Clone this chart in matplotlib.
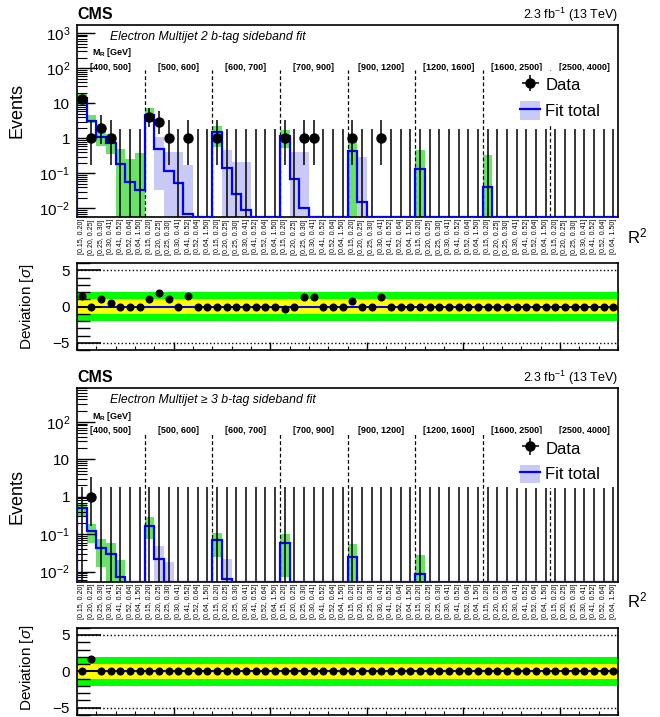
import numpy as np
import matplotlib
matplotlib.use("Agg")
import matplotlib.pyplot as plt
from matplotlib.patches import Patch
from matplotlib.lines import Line2D
from matplotlib.legend_handler import HandlerTuple
from matplotlib.ticker import LogLocator, FuncFormatter, MultipleLocator, NullFormatter

plt.rcParams['font.family'] = ['Liberation Sans', 'DejaVu Sans']
plt.rcParams['mathtext.fontset'] = 'custom'
plt.rcParams['mathtext.rm'] = 'Liberation Sans'
plt.rcParams['mathtext.it'] = 'Liberation Sans:italic'
plt.rcParams['mathtext.bf'] = 'Liberation Sans:bold'

mr_bins = ['[400, 500]', '[500, 600]', '[600, 700]', '[700, 900]',
           '[900, 1200]', '[1200, 1600]', '[1600, 2500]', '[2500, 4000]']
r2_bins = ['[0.15, 0.20]', '[0.20, 0.25]', '[0.25, 0.30]', '[0.30, 0.41]',
           '[0.41, 0.52]', '[0.52, 0.64]', '[0.64, 1.50]']

# ---- 2 b-tag (oben) ----
data_2b = [13, 1, 2, 1, 0, 0, 0,
           4, 3, 1, 0, 1, 0, 0,
           1, 0, 0, 0, 0, 0, 0,
           1, 0, 1, 1, 0, 0, 0,
           1, 0, 0, 1, 0, 0, 0,
           0, 0, 0, 0, 0, 0, 0,
           0, 0, 0, 0, 0, 0, 0,
           0, 0, 0, 0, 0, 0, 0]
fit_2b = [14, 3.2, 1.1, 0.75, 0.18, 0.058, 0.033,
          4.7, 0.5, 0.12, 0.054, 0.007, 0, 0,
          1.5, 0.145, 0.026, 0.0093, 0, 0, 0,
          1.16, 0.069, 0.01, 0, 0, 0, 0,
          0.44, 0.015, 0, 0, 0, 0, 0,
          0.13, 0, 0, 0, 0, 0, 0,
          0.041, 0, 0, 0, 0, 0, 0,
          0, 0, 0, 0, 0, 0, 0]
band_lo_2b = [9, 2.7, 0.6, 0.35, 0, 0, 0,
              3, 0.033, 0, 0, 0, 0, 0,
              0.57, 0, 0, 0, 0, 0, 0,
              0.52, 0, 0, 0, 0, 0, 0,
              0, 0, 0, 0, 0, 0, 0,
              0, 0, 0, 0, 0, 0, 0,
              0, 0, 0, 0, 0, 0, 0,
              0, 0, 0, 0, 0, 0, 0]
band_hi_2b = [19, 4.6, 2.3, 1.3, 0.48, 0.25, 0.37,
              7.5, 1.1, 0.42, 0.41, 0.17, 0, 0,
              2.2, 0.47, 0.21, 0.21, 0, 0, 0,
              1.7, 0.42, 0.42, 0, 0, 0, 0,
              1.0, 0.3, 0, 0, 0, 0, 0,
              0.47, 0, 0, 0, 0, 0, 0,
              0.33, 0, 0, 0, 0, 0, 0,
              0, 0, 0, 0, 0, 0, 0]
band_kind_2b = ['g', 'g', 'g', 'g', 'g', 'g', 'g',
                'g', 'b', 'b', 'b', 'b', '', '',
                'g', 'b', 'b', 'b', '', '', '',
                'g', 'b', 'b', '', '', '', '',
                'g', 'b', '', '', '', '', '',
                'g', '', '', '', '', '', '',
                'g', '', '', '', '', '', '',
                '', '', '', '', '', '', '']
dev_2b = [1.4, 0, 1.1, 0.5, 0, 0, 0,
          1.05, 1.85, 1.0, 0, 1.4, 0, 0,
          0, 0, 0, 0, 0, 0, 0,
          -0.4, 0, 1.3, 1.25, 0, 0, 0,
          0.7, 0, 0, 1.35, 0, 0, 0,
          0, 0, 0, 0, 0, 0, 0,
          0, 0, 0, 0, 0, 0, 0,
          0, 0, 0, 0, 0, 0, 0]

# ---- >= 3 b-tag (unten) ----
data_3b = [0, 1, 0, 0, 0, 0, 0] + [0] * 49
fit_3b = [0.5, 0.125, 0.043, 0.03, 0.007, 0, 0,
          0.17, 0.022, 0, 0, 0, 0, 0,
          0.07, 0.0063, 0, 0, 0, 0, 0,
          0.057, 0, 0, 0, 0, 0, 0,
          0.024, 0, 0, 0, 0, 0, 0,
          0.0087, 0, 0, 0, 0, 0, 0,
          0, 0, 0, 0, 0, 0, 0,
          0, 0, 0, 0, 0, 0, 0]
band_lo_3b = [0.31, 0.057, 0.013, 0, 0, 0, 0,
              0.074, 0, 0, 0, 0, 0, 0,
              0.024, 0, 0, 0, 0, 0, 0,
              0.007, 0, 0, 0, 0, 0, 0,
              0, 0, 0, 0, 0, 0, 0,
              0, 0, 0, 0, 0, 0, 0,
              0, 0, 0, 0, 0, 0, 0,
              0, 0, 0, 0, 0, 0, 0]
band_hi_3b = [0.7, 0.19, 0.074, 0.057, 0.02, 0, 0,
              0.28, 0.049, 0.018, 0, 0, 0, 0,
              0.11, 0.022, 0, 0, 0, 0, 0,
              0.1, 0, 0, 0, 0, 0, 0,
              0.055, 0, 0, 0, 0, 0, 0,
              0.028, 0, 0, 0, 0, 0, 0,
              0, 0, 0, 0, 0, 0, 0,
              0, 0, 0, 0, 0, 0, 0]
band_kind_3b = ['g', 'g', 'g', 'g', 'g', '', '',
                'g', 'b', 'b', '', '', '', '',
                'g', 'b', '', '', '', '', '',
                'g', '', '', '', '', '', '',
                'g', '', '', '', '', '', '',
                'g', '', '', '', '', '', '',
                '', '', '', '', '', '', '',
                '', '', '', '', '', '', '']
dev_3b = [0, 1.7, 0, 0, 0, 0, 0] + [0] * 49

# Poisson-Intervalle (Garwood) fuer die beobachteten Zahlen
poisson_lo = {0: 0.0, 1: 0.17, 2: 0.71, 3: 1.37, 4: 2.09, 13: 9.45}
poisson_hi = {0: 1.84, 1: 3.30, 2: 4.64, 3: 5.92, 4: 7.16, 13: 17.69}

BLUE = '#0000ff'
LIGHTBLUE = '#c9c9f7'
GREEN = '#6ae26a'

W, H = 660, 717


def fbox(left, top, right, bottom):
    return [left / W, 1 - bottom / H, (right - left) / W, (bottom - top) / H]


def log_label(v, pos):
    k = int(round(np.log10(v)))
    if k == 0:
        return '1'
    if k == 1:
        return '10'
    return r'$10^{%d}$' % k


def draw(ax, axr, data, fit, blo, bhi, bkind, dev, ylo, yhi, title):
    n = len(data)
    edges = np.arange(n + 1)
    x = np.arange(n) + 0.5

    ax.set_yscale('log')
    ax.set_xlim(0, n)
    ax.set_ylim(ylo, yhi)

    # Unsicherheitsbaender
    for i in range(n):
        if bkind[i]:
            lo = blo[i] if blo[i] > 0 else ylo
            col = GREEN if bkind[i] == 'g' else LIGHTBLUE
            ax.bar(x[i], bhi[i] - lo, bottom=lo, width=1, color=col, lw=0, zorder=1)

    # Fit
    ax.stairs(np.maximum(fit, ylo), edges, baseline=ylo, color=BLUE, lw=1.6, zorder=3)

    # Daten
    d = np.array(data, dtype=float)
    lo = np.array([poisson_lo[k] for k in data])
    hi = np.array([poisson_hi[k] for k in data])
    nz = d > 0
    ax.vlines(x[~nz], ylo, hi[~nz], color='k', lw=1.1, zorder=4)
    ax.errorbar(x[nz], d[nz], yerr=[d[nz] - lo[nz], hi[nz] - d[nz]], fmt='o',
                color='k', ms=6.5, lw=1.1, capsize=0, zorder=5)

    # Gruppengrenzen und Beschriftung
    for g in range(len(mr_bins)):
        if g > 0:
            ax.axvline(7 * g, ymax=0.765, color='k', ls=(0, (3, 2)), lw=0.9, zorder=2)
        ax.text(7 * g + 3.5, 0.768, mr_bins[g], transform=ax.get_xaxis_transform(),
                ha='center', va='baseline', fontsize=6.5, fontweight='bold')
    ax.text(0.028, 0.842, r'$\mathbf{M_R}$ [GeV]', transform=ax.transAxes,
            fontsize=6.5, fontweight='bold', va='baseline')
    ax.text(0.061, 0.92, title, transform=ax.transAxes, fontsize=8.8,
            style='italic', va='baseline')
    ax.text(0.0, 1.03, 'CMS', transform=ax.transAxes, fontsize=11.5,
            fontweight='bold', va='baseline')
    ax.text(1.0, 1.03, r'2.3 fb$^{-1}$ (13 TeV)', transform=ax.transAxes,
            fontsize=9, ha='right', va='baseline')
    ax.text(1.017, -0.135, r'R$^2$', transform=ax.transAxes, fontsize=12, va='baseline')

    # Achsen
    ax.yaxis.set_major_locator(LogLocator(base=10, numticks=20))
    ax.yaxis.set_minor_locator(LogLocator(base=10, subs=np.arange(2, 10), numticks=20))
    ax.yaxis.set_major_formatter(FuncFormatter(log_label))
    ax.yaxis.set_minor_formatter(NullFormatter())
    ax.tick_params(axis='y', which='major', direction='in', length=13, width=1,
                   labelsize=11, pad=5)
    ax.tick_params(axis='y', which='minor', direction='in', length=7, width=0.8)
    ax.set_xticks(x)
    ax.set_xticklabels(r2_bins * len(mr_bins), rotation=90, fontsize=5)
    ax.tick_params(axis='x', length=0, pad=1.5)
    for s in ax.spines.values():
        s.set_linewidth(1.2)

    h_data = ax.errorbar([np.nan], [np.nan], xerr=[[1]], yerr=[[1]], fmt='o',
                         color='k', ms=6.5, lw=1.1, capsize=0)
    h_fit = (Patch(facecolor=LIGHTBLUE, edgecolor='none'), Line2D([], [], color=BLUE, lw=1.6))
    ax.legend([h_data, h_fit], ['Data', 'Fit total'], loc='upper left',
              bbox_to_anchor=(0.81, 0.762), fontsize=12, frameon=True, framealpha=1,
              facecolor='white', edgecolor='none', fancybox=False,
              handlelength=1.2, handleheight=1.3, handletextpad=0.3,
              labelspacing=0.45, borderpad=0.3, borderaxespad=0,
              handler_map={tuple: HandlerTuple(ndivide=1)})

    # Abweichung
    axr.set_xlim(0, n)
    axr.set_ylim(-6, 6)
    axr.axhspan(-2, 2, color='#00ff00', lw=0, zorder=0)
    axr.axhspan(-1, 1, color='#ffff00', lw=0, zorder=0)
    axr.axhline(0, color=BLUE, lw=1.5, zorder=1)
    axr.axhline(5, color='k', ls=':', lw=1, zorder=1)
    axr.axhline(-5, color='k', ls=':', lw=1, zorder=1)
    axr.plot(x, dev, 'o', color='k', ms=4.8, zorder=3)
    axr.set_yticks([-5, 0, 5])
    axr.set_yticklabels(['\u22125', '0', '5'])
    axr.yaxis.set_minor_locator(MultipleLocator(1))
    axr.xaxis.set_major_locator(MultipleLocator(10))
    axr.xaxis.set_minor_locator(MultipleLocator(2))
    axr.tick_params(axis='y', which='major', direction='in', length=17, width=1.2,
                    labelsize=11, pad=5)
    axr.tick_params(axis='y', which='minor', direction='in', length=9, width=1)
    axr.tick_params(axis='x', which='major', direction='in', length=6, width=1,
                    labelbottom=False)
    axr.tick_params(axis='x', which='minor', direction='in', length=3, width=0.8)
    for s in axr.spines.values():
        s.set_linewidth(1.2)


fig = plt.figure(figsize=(W / 100, H / 100), dpi=100)

ax1 = fig.add_axes(fbox(77, 25, 618, 217))
ax1r = fig.add_axes(fbox(77, 263, 618, 350))
ax2 = fig.add_axes(fbox(77, 388, 618, 581.7))
ax2r = fig.add_axes(fbox(77, 627.7, 618, 715))

draw(ax1, ax1r, data_2b, fit_2b, band_lo_2b, band_hi_2b, band_kind_2b, dev_2b,
     0.0057, 1700, 'Electron Multijet 2 b-tag sideband fit')
draw(ax2, ax2r, data_3b, fit_3b, band_lo_3b, band_hi_3b, band_kind_3b, dev_3b,
     0.0054, 800, 'Electron Multijet \u2265 3 b-tag sideband fit')

for yc in (111, 497):
    fig.text(17 / W, 1 - yc / H, 'Events', rotation=90, ha='center', va='center', fontsize=13)
for yc in (307, 668):
    fig.text(27 / W, 1 - yc / H, r'Deviation [$\sigma$]', rotation=90, ha='center',
             va='center', fontsize=11)

fig.savefig('out.png', dpi=100)
